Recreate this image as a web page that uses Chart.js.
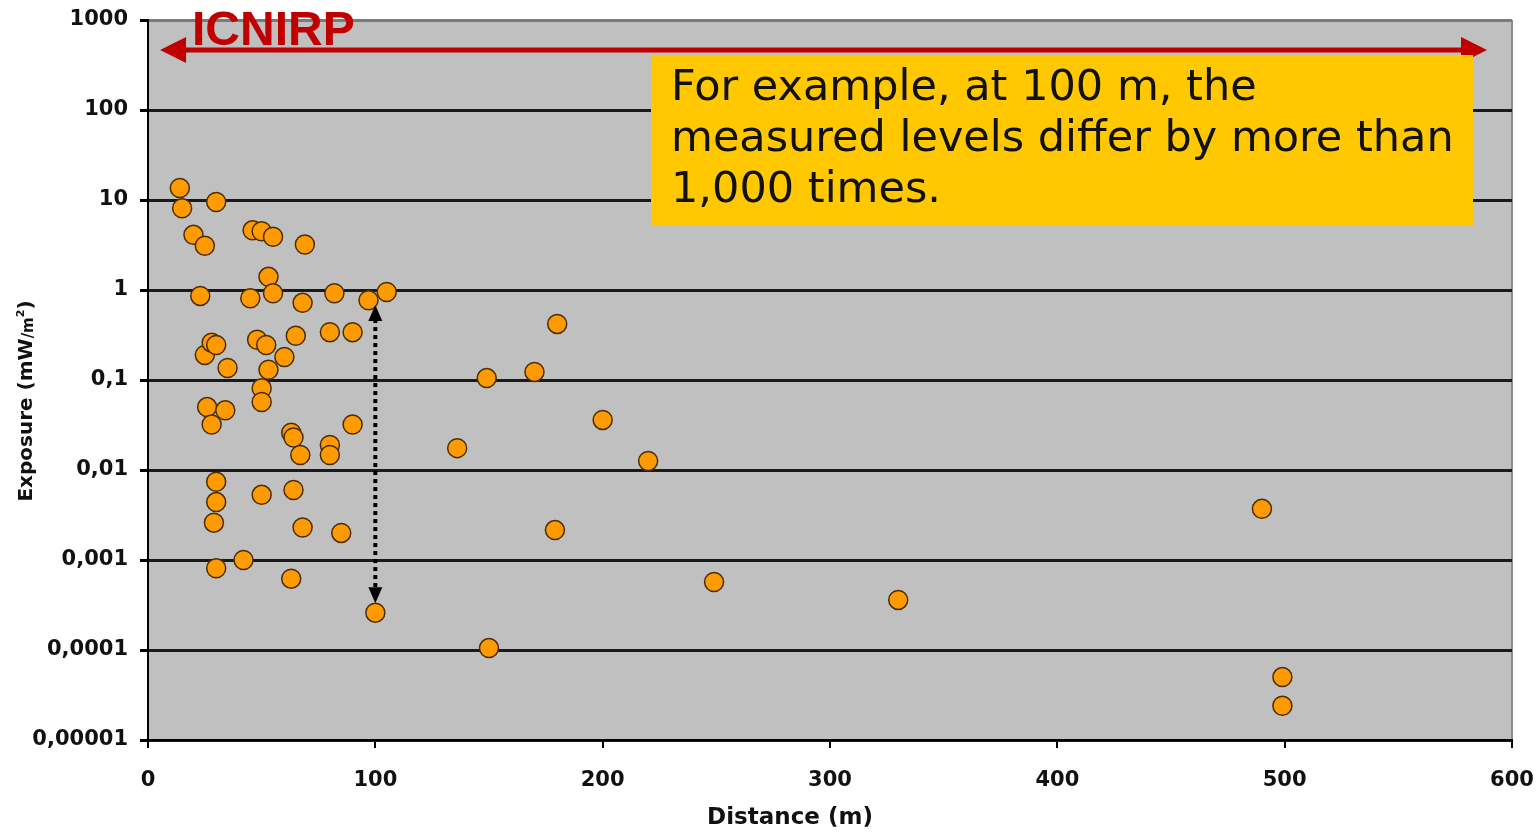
<!DOCTYPE html>
<html>
<head>
<meta charset="utf-8">
<script src="https://cdn.jsdelivr.net/npm/chart.js@4.4.1/dist/chart.umd.min.js"></script>
<style>
  html, body { margin: 0; padding: 0; background: #fff; }
  #wrap { width: 1537px; height: 835px; }
</style>
</head>
<body>
<div id="wrap"><canvas id="exposureChart" width="1537" height="835"></canvas></div>
<script>
// Mesures d'exposition en fonction de la distance
const distances = [14, 15, 30, 20, 25, 46, 50, 55, 69, 53,
  23, 45, 55, 68, 82, 97, 105, 180, 25, 28,
  30, 35, 48, 52, 60, 65, 80, 90, 53, 50,
  50, 26, 34, 28, 63, 64, 67, 80, 80, 90,
  30, 30, 29, 50, 64, 68, 85, 30, 42, 63,
  100, 149, 170, 200, 136, 220, 179, 150, 249, 330,
  490, 499, 499];
const exposures = [13.6, 8.1, 9.5, 4.1, 3.1, 4.6, 4.5, 3.9, 3.2, 1.4,
  0.86, 0.81, 0.92, 0.72, 0.92, 0.77, 0.95, 0.42, 0.19, 0.26,
  0.245, 0.136, 0.28, 0.245, 0.18, 0.31, 0.34, 0.34, 0.13, 0.081,
  0.057, 0.05, 0.046, 0.032, 0.026, 0.023, 0.0147, 0.019, 0.0147, 0.032,
  0.0074, 0.0044, 0.0026, 0.0053, 0.006, 0.0023, 0.002, 0.00081, 0.001, 0.00062,
  0.00026, 0.105, 0.123, 0.036, 0.0175, 0.0126, 0.00215, 0.000105, 0.00057, 0.00036,
  0.0037, 0.00005, 0.000024];

const xTickValues = [0, 100, 200, 300, 400, 500, 600];
const xTickLabels = ['0', '100', '200', '300', '400', '500', '600'];
const yTickValues = [0.00001, 0.0001, 0.001, 0.01, 0.1, 1, 10, 100, 1000];
const yTickLabels = ['0,00001', '0,0001', '0,001', '0,01', '0,1', '1', '10', '100', '1000'];

// Annotations (en unités des données)
const icnirpLevel = 464;
const icnirpFrom = 5.3;
const icnirpTo = 589;
const spreadDistance = 100;
const spreadTop = 0.68;
const spreadBottom = 0.00033;
const noteLines = ['For example, at 100 m, the', 'measured levels differ by more than', '1,000 times.'];

const points = distances.map((d, i) => ({ x: d, y: exposures[i] }));

function tickLabel(values, labels, v) {
  const i = values.findIndex(t => Math.abs(t - v) <= Math.abs(t) * 1e-6);
  return i >= 0 ? labels[i] : '';
}

function arrowHead(ctx, x, y, angle, len, half) {
  ctx.save();
  ctx.translate(x, y);
  ctx.rotate(angle);
  ctx.beginPath();
  ctx.moveTo(0, 0);
  ctx.lineTo(-len, -half);
  ctx.lineTo(-len, half);
  ctx.closePath();
  ctx.fill();
  ctx.restore();
}

// Fond gris de la zone de tracé
const plotBackground = {
  id: 'plotBackground',
  beforeDraw(chart) {
    const { ctx, chartArea: a } = chart;
    ctx.save();
    ctx.fillStyle = '#c0c0c0';
    ctx.fillRect(a.left, a.top, a.right - a.left, a.bottom - a.top);
    ctx.strokeStyle = '#8c8c8c';
    ctx.lineWidth = 2;
    ctx.beginPath();
    ctx.moveTo(a.right, a.top);
    ctx.lineTo(a.right, a.bottom);
    ctx.stroke();
    ctx.restore();
  }
};

// Titres des axes dessinés à la main (position + "/m²" plus petit)
const axisTitles = {
  id: 'axisTitles',
  afterDraw(chart) {
    const { ctx } = chart;
    ctx.save();
    ctx.fillStyle = '#111';
    ctx.textBaseline = 'middle';
    ctx.textAlign = 'center';
    ctx.font = 'bold 23px "DejaVu Sans", Arial, sans-serif';
    ctx.fillText('Distance (m)', 790, 818);

    // titre vertical
    const parts = [
      { t: 'Exposure (mW', f: 'bold 20px "DejaVu Sans", Arial, sans-serif', dy: 0 },
      { t: '/m', f: 'bold 15px "DejaVu Sans", Arial, sans-serif', dy: 2 },
      { t: '2', f: 'bold 11px "DejaVu Sans", Arial, sans-serif', dy: -6 },
      { t: ')', f: 'bold 20px "DejaVu Sans", Arial, sans-serif', dy: 0 }
    ];
    let total = 0;
    parts.forEach(p => { ctx.font = p.f; p.w = ctx.measureText(p.t).width; total += p.w; });
    ctx.translate(27, 401);
    ctx.rotate(-Math.PI / 2);
    ctx.textAlign = 'left';
    let x = -total / 2;
    parts.forEach(p => {
      ctx.font = p.f;
      ctx.fillText(p.t, x, p.dy);
      x += p.w;
    });
    ctx.restore();
  }
};

// Flèches, texte ICNIRP et encadré jaune
const annotations = {
  id: 'annotations',
  afterDatasetsDraw(chart) {
    const { ctx, scales } = chart;
    const xs = scales.x, ys = scales.y;
    ctx.save();

    // double flèche pointillée à 100 m
    const dx = xs.getPixelForValue(spreadDistance);
    const dTop = ys.getPixelForValue(spreadTop);
    const dBot = ys.getPixelForValue(spreadBottom);
    ctx.strokeStyle = '#000';
    ctx.fillStyle = '#000';
    ctx.lineWidth = 4;
    ctx.setLineDash([4, 4]);
    ctx.beginPath();
    ctx.moveTo(dx, dTop + 14);
    ctx.lineTo(dx, dBot - 14);
    ctx.stroke();
    ctx.setLineDash([]);
    arrowHead(ctx, dx, dTop, -Math.PI / 2, 16, 7);
    arrowHead(ctx, dx, dBot, Math.PI / 2, 16, 7);

    // flèche ICNIRP
    const rx1 = xs.getPixelForValue(icnirpFrom);
    const rx2 = xs.getPixelForValue(icnirpTo);
    const ry = ys.getPixelForValue(icnirpLevel);
    ctx.strokeStyle = '#c00000';
    ctx.fillStyle = '#c00000';
    ctx.lineWidth = 5;
    ctx.beginPath();
    ctx.moveTo(rx1 + 20, ry);
    ctx.lineTo(rx2 - 20, ry);
    ctx.stroke();
    arrowHead(ctx, rx1, ry, Math.PI, 26, 13);
    arrowHead(ctx, rx2, ry, 0, 26, 13);
    ctx.font = 'bold 48px "Liberation Sans", Arial, sans-serif';
    ctx.textAlign = 'left';
    ctx.textBaseline = 'alphabetic';
    ctx.fillText('ICNIRP', 192, 45);

    // encadré jaune
    const bx = 651, by = 55, bw = 822, bh = 170;
    ctx.fillStyle = '#ffc800';
    ctx.fillRect(bx, by, bw, bh);
    ctx.fillStyle = '#111';
    ctx.font = '43px "DejaVu Sans", Verdana, sans-serif';
    ctx.textBaseline = 'middle';
    noteLines.forEach((line, i) => {
      ctx.fillText(line, bx + 20, by + 34 + i * 51);
    });

    ctx.restore();
  }
};

const tickFont = { family: '"DejaVu Sans", Arial, sans-serif', size: 21, weight: 'bold' };

const ctx = document.getElementById('exposureChart').getContext('2d');
const chart = new Chart(ctx, {
  type: 'scatter',
  data: {
    datasets: [{
      label: 'Exposure',
      data: points,
      backgroundColor: '#ff9a00',
      borderColor: '#4a2e08',
      borderWidth: 1.5,
      pointRadius: 9.5,
      pointHoverRadius: 9.5
    }]
  },
  options: {
    responsive: false,
    animation: false,
    events: [],
    layout: { padding: { top: 20, right: 25, left: 0, bottom: 0 } },
    plugins: {
      legend: { display: false },
      tooltip: { enabled: false }
    },
    scales: {
      x: {
        type: 'linear',
        min: 0,
        max: 600,
        afterBuildTicks: scale => { scale.ticks = xTickValues.map(v => ({ value: v })); },
        afterFit: scale => {
          scale.height = 95;
          scale.paddingLeft = 0;
          scale.paddingRight = 0;
        },
        ticks: {
          color: '#111',
          font: tickFont,
          padding: 20,
          maxRotation: 0,
          callback: v => tickLabel(xTickValues, xTickLabels, v)
        },
        grid: {
          drawOnChartArea: false,
          tickLength: 8,
          tickColor: '#000',
          lineWidth: 2
        },
        border: { display: true, color: '#000', width: 2 },
        title: { display: false }
      },
      y: {
        type: 'logarithmic',
        min: 0.00001,
        max: 1000,
        afterBuildTicks: scale => { scale.ticks = yTickValues.map(v => ({ value: v })); },
        afterFit: scale => {
          scale.width = 148;
          scale.paddingTop = 0;
          scale.paddingBottom = 0;
        },
        ticks: {
          color: '#111',
          font: tickFont,
          padding: 12,
          autoSkip: false,
          callback: v => tickLabel(yTickValues, yTickLabels, v)
        },
        grid: {
          color: c => (c.tick && c.tick.value === 1000) ? '#7a7a7a' : '#1a1a1a',
          lineWidth: 3,
          tickLength: 8,
          tickColor: '#000'
        },
        border: { display: true, color: '#000', width: 2 },
        title: { display: false }
      }
    }
  },
  plugins: [plotBackground, annotations, axisTitles]
});
</script>
</body>
</html>
